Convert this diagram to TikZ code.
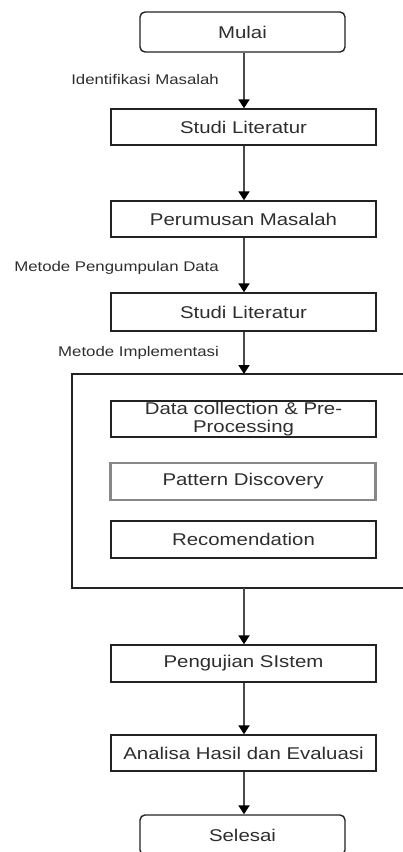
\documentclass[tikz,border=0pt]{standalone}
\usepackage{fontspec}
\setmainfont[FakeStretch=1.2]{Liberation Sans}
\usetikzlibrary{arrows.meta}
\definecolor{txt}{HTML}{2E2E2E}
\definecolor{edge}{HTML}{222222}
\definecolor{shaft}{HTML}{4A4A4A}
\definecolor{pgray}{HTML}{888888}
\begin{document}
\begin{tikzpicture}[x=1pt,y=-1pt,
  box/.style={draw=edge, line width=1.4pt, minimum width=265pt, minimum height=36pt, inner sep=0pt, text=txt, font=\fontsize{17}{18}\selectfont},
  term/.style={box, rounded corners=5pt, minimum width=205pt, minimum height=40pt},
  lbl/.style={anchor=east, text=txt, font=\fontsize{14}{15}\selectfont, inner sep=0pt},
  conn/.style={draw=shaft, line width=2pt, -{Triangle[width=11pt,length=9pt,color=black]}}]
\useasboundingbox (0,0) rectangle (403,852);
\clip (0,0) rectangle (403,852);
\node[term] (m) at (242.5,32) {Mulai};
\node[box] (s1) at (243.5,127) {Studi Literatur};
\node[box] (p) at (243.5,219) {Perumusan Masalah};
\node[box, minimum height=38pt] (s2) at (243.5,312) {Studi Literatur};
\draw[draw=edge, line width=1.4pt] (420,374) -- (72,374) -- (72,588) -- (420,588);
\coordinate (ctop) at (243.5,374);
\coordinate (cbot) at (243.5,588);
\node[box, align=center] (d) at (243.5,419) {Data collection \& Pre-\\Processing};
\node[box, draw=pgray, line width=2.5pt, minimum height=37pt] (pd) at (243,481.5) {Pattern Discovery};
\node[box, minimum height=37pt] (r) at (243.5,539.5) {Recomendation};
\node[box, minimum height=37pt] (pg) at (243.5,663.5) {Pengujian SIstem};
\node[box] (a) at (243.5,753) {Analisa Hasil dan Evaluasi};
\node[term] (sel) at (242.5,835) {Selesai};
\node[lbl] (l1) at (219,79) {Identifikasi Masalah};
\node[lbl] (l2) at (219,268) {Metode Pengumpulan Data};
\node[lbl] (l3) at (219,353) {Metode Implementasi};
\draw[conn] (m.south -| 244,0) -- (s1.north -| 244,0);
\draw[conn] (s1.south -| 244,0) -- (p.north -| 244,0);
\draw[conn] (p.south -| 244,0) -- (s2.north -| 244,0);
\draw[conn] (s2.south -| 244,0) -- (ctop -| 244,0);
\draw[conn] (cbot -| 244,0) -- (pg.north -| 244,0);
\draw[conn] (pg.south -| 244,0) -- (a.north -| 244,0);
\draw[conn] (a.south -| 244,0) -- (sel.north -| 244,0);
\end{tikzpicture}
\end{document}
